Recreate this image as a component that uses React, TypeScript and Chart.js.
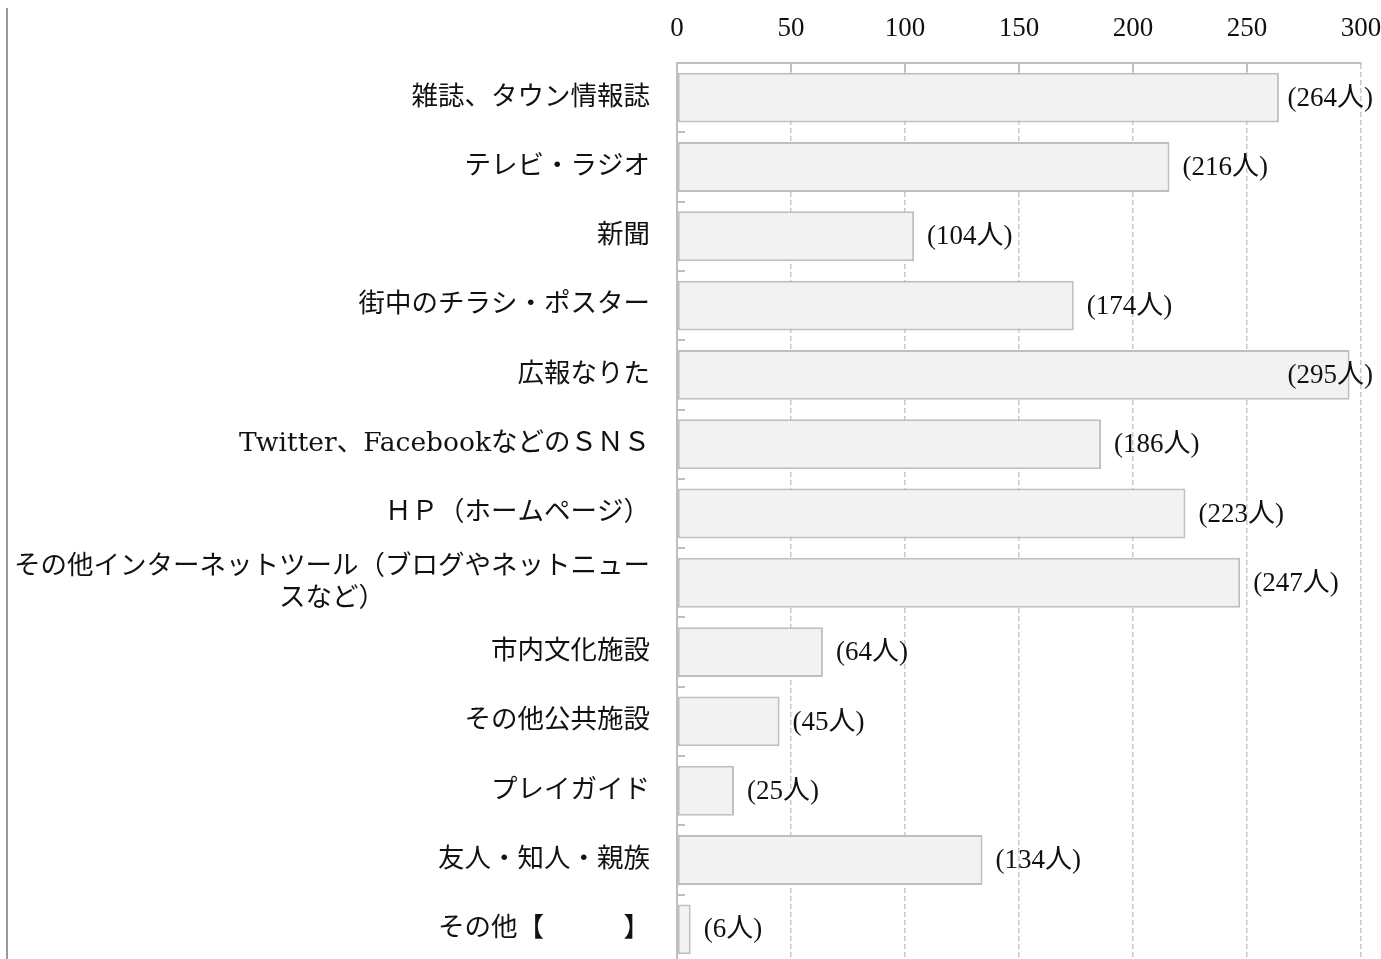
import React, { useEffect, useRef } from "react";
import { Chart, registerables } from "chart.js";

Chart.register(...registerables);

const categories: (string | string[])[] = [
  "雑誌、タウン情報誌",
  "テレビ・ラジオ",
  "新聞",
  "街中のチラシ・ポスター",
  "広報なりた",
  "Twitter、FacebookなどのＳＮＳ",
  "ＨＰ（ホームページ）",
  ["その他インターネットツール（ブログやネットニュー", "スなど）"],
  "市内文化施設",
  "その他公共施設",
  "プレイガイド",
  "友人・知人・親族",
  "その他【　　　】",
];

const values: number[] = [264, 216, 104, 174, 295, 186, 223, 247, 64, 45, 25, 134, 6];

const X_MIN = 0;
const X_MAX = 300;
const X_STEP = 50;

const unit = "人";

const CANVAS_W = 1373;
const CANVAS_H = 965;
const GRAY = "#bfbfbf";
const TEXT = "#111111";
const NUM_FAMILY = '"Liberation Serif", "Noto Sans CJK JP"';
const LABEL_FONT = '26.5px "DejaVu Serif", "Noto Sans CJK JP"';
const DATA_FONT = '27px ' + NUM_FAMILY;

const decorPlugin = {
  id: "decor",
  afterDatasetsDraw(chart: any) {
    const { ctx, chartArea } = chart;
    const xs = chart.scales.x;
    const ys = chart.scales.y;
    ctx.save();
    // inside tick marks on top axis
    ctx.strokeStyle = GRAY;
    ctx.lineWidth = 2;
    for (let v = X_MIN; v < X_MAX; v += X_STEP) {
      const px = Math.round(xs.getPixelForValue(v));
      ctx.beginPath();
      ctx.moveTo(px, chartArea.top);
      ctx.lineTo(px, chartArea.top + 9);
      ctx.stroke();
    }
    // inside tick marks on category axis (boundaries)
    for (let i = 1; i < categories.length; i++) {
      const py = Math.round((ys.getPixelForValue(i - 1) + ys.getPixelForValue(i)) / 2);
      ctx.beginPath();
      ctx.moveTo(chartArea.left, py);
      ctx.lineTo(chartArea.left + 8, py);
      ctx.stroke();
    }
    // data labels
    ctx.fillStyle = TEXT;
    ctx.font = DATA_FONT;
    ctx.textBaseline = "middle";
    ctx.textAlign = "left";
    values.forEach((v, i) => {
      const txt = "(" + v + unit + ")";
      const w = ctx.measureText(txt).width;
      let x = xs.getPixelForValue(v) + 13;
      if (x + w > chart.width - 8) x = chart.width - 8 - w;
      const y = ys.getPixelForValue(i) + 1;
      ctx.fillText(txt, x, y);
    });
    // category labels
    ctx.font = LABEL_FONT;
    ctx.textAlign = "right";
    const right = chartArea.left - 27;
    categories.forEach((c, i) => {
      const y = ys.getPixelForValue(i);
      if (Array.isArray(c)) {
        const lh = 32;
        const maxW = Math.max(...c.map((s) => ctx.measureText(s).width));
        const cx = right - maxW / 2;
        ctx.textAlign = "center";
        c.forEach((s, k) => {
          ctx.fillText(s, cx, y + (k - (c.length - 1) / 2) * lh);
        });
        ctx.textAlign = "right";
      } else {
        ctx.fillText(c, right, y);
      }
    });
    ctx.restore();
  },
};

export default function App() {
  const ref = useRef<HTMLCanvasElement | null>(null);
  useEffect(() => {
    if (!ref.current) return;
    const chart = new Chart(ref.current, {
      type: "bar",
      data: {
        labels: categories.map((c) => (Array.isArray(c) ? c.join("") : c)),
        datasets: [
          {
            data: values,
            backgroundColor: "#f2f2f2",
            borderColor: GRAY,
            borderWidth: 2,
            borderSkipped: false,
            barPercentage: 0.72,
            categoryPercentage: 1,
          },
        ],
      },
      options: {
        indexAxis: "y",
        animation: false,
        responsive: false,
        layout: { padding: { left: 0, right: 20, top: 0, bottom: 9 } },
        plugins: {
          legend: { display: false },
          tooltip: { enabled: false },
          title: { display: false },
        },
        scales: {
          x: {
            position: "top",
            min: X_MIN,
            max: X_MAX,
            ticks: {
              stepSize: X_STEP,
              color: TEXT,
              font: { family: NUM_FAMILY, size: 27 },
              padding: 18,
            },
            grid: {
              display: true,
              drawTicks: false,
              color: "#c8c8c8",
              lineWidth: 1.5,
            },
            border: { display: true, color: GRAY, width: 2, dash: [5, 3] },
            afterFit: (s: any) => {
              s.height = 55;
              s.paddingLeft = 0;
              s.paddingRight = 0;
            },
          },
          y: {
            ticks: { display: false },
            grid: { display: false },
            border: { display: true, color: GRAY, width: 2 },
            afterFit: (s: any) => {
              s.width = 669;
              s.paddingTop = 0;
              s.paddingBottom = 0;
            },
          },
        },
      },
      plugins: [decorPlugin],
    } as any);
    return () => chart.destroy();
  }, []);

  return (
    <div
      style={{
        position: "absolute",
        left: 6,
        top: 8,
        width: CANVAS_W + 2,
        height: 951,
        overflow: "hidden",
        borderLeft: "2px solid #999999",
        boxSizing: "border-box",
      }}
    >
      <canvas
        ref={ref}
        width={CANVAS_W}
        height={CANVAS_H}
        style={{ display: "block", width: CANVAS_W, height: CANVAS_H }}
      />
    </div>
  );
}
